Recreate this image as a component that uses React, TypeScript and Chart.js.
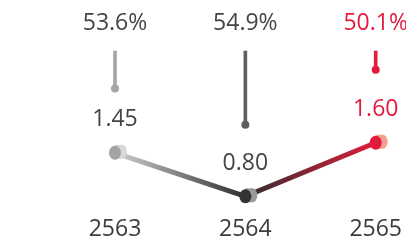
import React, { useEffect, useRef } from "react";
import { Chart, registerables } from "chart.js";

Chart.register(...registerables);

const years = ["2563", "2564", "2565"];
const ratioValues = [1.45, 0.8, 1.6];
const ratioLabels = ["1.45", "0.80", "1.60"];
const percentLabels = ["53.6%", "54.9%", "50.1%"];
const stemTop = [2.97, 2.97, 2.97];
const stemEnd = [2.41, 1.87, 2.69];

const RED = "#e21b3c";
const stemColors = ["#a6a6a6", "#5e5e5e", RED];
const textColors = ["#444444", "#444444", RED];
const pointColors = ["#a3a3a3", "#333333", RED];
const capColors = ["#d9d9d9", "#9a9a9a", "#f2a08f"];
const FONT = "'Open Sans', 'Noto Sans', sans-serif";

const labelPlugin = {
  id: "labelPlugin",
  afterDatasetsDraw(chart: any) {
    const ctx = chart.ctx;
    const yScale = chart.scales.y;
    const lineMeta = chart.getDatasetMeta(2);
    ctx.save();
    lineMeta.data.forEach((pt: any, i: number) => {
      const x = pt.x;
      const y = pt.y;
      ctx.fillStyle = capColors[i];
      ctx.beginPath();
      ctx.ellipse(x + 7, y - 1, 5, 7, 0, 0, Math.PI * 2);
      ctx.fill();
      ctx.fillRect(x, y - 8, 7, 14);
      ctx.fillStyle = pointColors[i];
      ctx.beginPath();
      ctx.ellipse(x, y, 6, 7, 0, 0, Math.PI * 2);
      ctx.fill();
    });
    ctx.font = `23px ${FONT}`;
    ctx.textAlign = "center";
    ctx.textBaseline = "middle";
    lineMeta.data.forEach((pt: any, i: number) => {
      ctx.fillStyle = textColors[i];
      ctx.fillText(ratioLabels[i], pt.x, pt.y - 33);
      const topY = yScale.getPixelForValue(stemTop[i]);
      ctx.fillText(percentLabels[i], pt.x, topY - 28);
    });
    ctx.restore();
  },
};

export default function App() {
  const ref = useRef<HTMLCanvasElement | null>(null);
  useEffect(() => {
    if (!ref.current) return;
    const chart = new Chart(ref.current, {
      data: {
        labels: years,
        datasets: [
          {
            type: "bar",
            data: years.map((_, i) => [stemEnd[i], stemTop[i]]) as any,
            backgroundColor: stemColors,
            borderWidth: 0,
            barThickness: 3,
            clip: false,
            order: 3,
          },
          {
            type: "line",
            data: stemEnd,
            showLine: false,
            pointRadius: 4,
            pointBackgroundColor: stemColors,
            pointBorderWidth: 0,
            clip: false,
            order: 2,
          },
          {
            type: "line",
            data: ratioValues,
            borderWidth: 5,
            tension: 0,
            pointRadius: 0,
            clip: false,
            borderColor: (c: any) => {
              const chart = c.chart;
              if (!chart.chartArea) return "#888888";
              const xs = chart.scales.x;
              const g = chart.ctx.createLinearGradient(
                xs.getPixelForValue(0), 0, xs.getPixelForValue(2), 0
              );
              g.addColorStop(0, "#d0d0d0");
              g.addColorStop(0.5, "#2e2e2e");
              g.addColorStop(1, RED);
              return g;
            },
            order: 1,
          },
        ],
      } as any,
      options: {
        animation: false,
        responsive: true,
        maintainAspectRatio: false,
        layout: { padding: { left: 107, right: 28, top: 0, bottom: 0 } },
        plugins: { legend: { display: false }, tooltip: { enabled: false } },
        scales: {
          x: {
            offset: false,
            grid: { display: false, drawTicks: false },
            border: { display: false },
            ticks: {
              padding: 4,
              color: "#3c3c3c",
              font: { family: FONT, size: 23 },
              maxRotation: 0,
            },
            afterFit: (axis: any) => {
              axis.height = 31;
            },
          },
          y: {
            display: false,
            min: 0.566,
            max: 3.553,
          },
        },
      } as any,
      plugins: [labelPlugin],
    });
    return () => chart.destroy();
  }, []);
  return (
    <div style={{ width: "398px", height: "235px", position: "relative" }}>
      <canvas ref={ref} />
    </div>
  );
}
